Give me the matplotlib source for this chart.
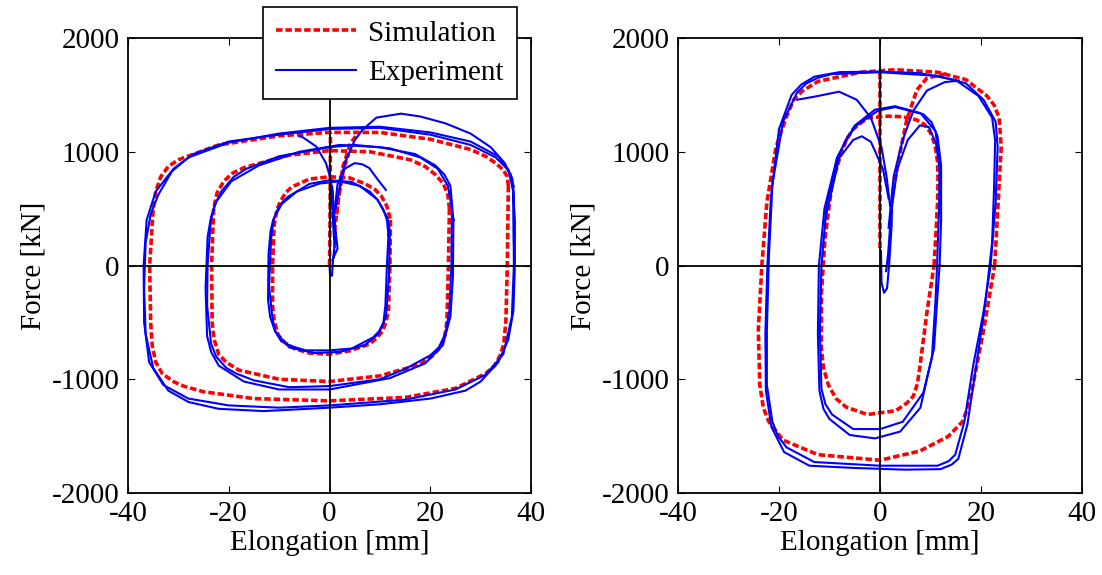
import numpy as np
import matplotlib
matplotlib.use('Agg')
import matplotlib.pyplot as plt

plt.rcParams['font.family'] = ['Liberation Serif', 'DejaVu Serif']
plt.rcParams['axes.unicode_minus'] = False

# ------ data (elongation [mm], force [kN]) ------
# left specimen, simulation
sim_l_small = [(12.1, 400), (12.0, 0), (11.7, -400), (11.2, -500), (10.5, -580), (9.3, -640), (8, -690),
               (4, -750), (0, -780), (-4, -770), (-7, -730), (-8.8, -680), (-10.2, -610), (-11, -480),
               (-11.3, -350), (-11.3, 0), (-11, 350), (-10.5, 480), (-9.8, 560), (-8.7, 640), (-7.5, 690),
               (-4, 760), (0, 780), (4, 770), (7, 720), (9, 670), (10.3, 610), (11.4, 520), (12.1, 400)]
sim_l_mid = [(23.8, 500), (23.6, 0), (23.3, -500), (22.8, -640), (22, -720), (20.3, -800), (18, -870),
             (10, -970), (0, -1020), (-10, -1000), (-18, -920), (-20.5, -850), (-22, -780), (-22.9, -650),
             (-23.3, -500), (-23.4, 0), (-23, 500), (-22.3, 640), (-21, 740), (-19.3, 810), (-17, 860),
             (-8, 970), (0, 1010), (8, 1000), (16, 930), (19, 870), (21, 800), (22.6, 720), (23.5, 620),
             (23.8, 500)]
sim_l_big = [(35.5, 700), (35.3, 0), (35.0, -500), (34.6, -680), (34.0, -780), (32.8, -880), (31, -950),
             (25, -1080), (15, -1160), (0, -1190), (-15, -1170), (-25, -1110), (-29, -1060), (-31, -1020),
             (-33.2, -950), (-34.5, -850), (-35.2, -700), (-35.5, -500), (-35.7, 0), (-35, 500),
             (-34.5, 650), (-33.5, 780), (-32, 870), (-30, 930), (-22, 1060), (-10, 1140), (0, 1170),
             (10, 1170), (20, 1110), (28, 1020), (31, 960), (33, 900), (34.5, 840), (35.3, 780),
             (35.5, 700)]
sim_l_init = [(0, 0), (0.1, 400), (0.2, 1170)]
sim_l_trans1 = [(1.0, 300), (1.8, 600), (2.8, 850), (3.8, 980)]
sim_l_trans2 = [(1.4, 450), (2.6, 860), (4.2, 1080), (6.0, 1175)]

# left specimen, experiment
exp_l_small_1 = [(11.7, 267), (11.4, 0), (11.1, -350), (10.7, -505), (9.8, -580), (8.6, -634), (4.4, -730),
                 (0, -746), (-4.7, -746), (-7.5, -710), (-9.6, -666), (-10.7, -580), (-11.3, -473),
                 (-12, -183), (-11.6, 235), (-11.1, 400), (-10.3, 492), (-9.3, 560), (-8.2, 605), (-4, 717),
                 (0, 750), (4.4, 734), (7.9, 653), (9.5, 580), (10.7, 492), (11.4, 400), (11.7, 267)]
exp_l_small_2 = [(12.0, 300), (11.8, -100), (11.2, -450), (9.8, -600), (7, -700), (2, -760), (-3, -770),
                 (-8, -720), (-10.8, -580), (-11.8, -450), (-12.2, -300), (-12.1, 100), (-11.7, 300),
                 (-11.2, 400), (-9.5, 540), (-6.5, 650), (-2, 720), (2, 740), (6, 700), (9.5, 580),
                 (11.5, 420), (12.0, 300)]
exp_l_mid_1 = [(24.3, 500), (24.2, 0), (23.8, -400), (23, -600), (21.7, -720), (20, -790), (15, -910),
               (10, -1000), (0, -1060), (-8, -1070), (-15, -1010), (-18.5, -950), (-20.5, -900),
               (-22.5, -800), (-23.5, -690), (-24.3, -350), (-24.2, 0), (-23.6, 380), (-22.8, 530),
               (-21.5, 650), (-19, 780), (-16.5, 850), (-10, 960), (0, 1040), (5, 1060), (12, 1030),
               (18, 950), (21.5, 850), (23.5, 700), (24.3, 500)]
exp_l_mid_2 = [(24.6, 400), (24.5, -100), (24, -450), (22.5, -700), (19, -860), (12, -990), (0, -1090),
               (-10, -1090), (-17, -1020), (-22, -880), (-23.5, -760), (-24.3, -620), (-24.6, -200),
               (-24.2, 250), (-23.5, 430), (-22.5, 560), (-19.5, 740), (-14, 880), (-6, 1000), (2, 1060),
               (10, 1040), (17, 980), (21, 880), (22.8, 800), (24, 700), (24.6, 400)]
exp_l_big_1 = [(1.2, 500), (3, 900), (5, 1100), (6.5, 1190), (9.3, 1300), (14.2, 1335), (18, 1310),
               (23, 1250), (28, 1160), (32, 1040), (34.8, 900), (36.3, 760), (36.8, 400), (36.8, 0),
               (36.5, -400), (35.5, -650), (33.5, -850), (30, -1020), (27, -1100), (20, -1170),
               (10, -1220), (0, -1250), (-13, -1280), (-22, -1260), (-28, -1200), (-32, -1100),
               (-35, -900), (-36.5, -600), (-36.8, -200), (-36.5, 200), (-35.5, 450), (-34, 620),
               (-31, 850), (-27, 980), (-20, 1090), (-10, 1150), (0, 1200), (10, 1210), (20, 1150),
               (28, 1060), (33, 950), (35.5, 840), (36.5, 650), (36.6, 200)]
exp_l_big_2 = [(36.5, 700), (36.6, 0), (36.2, -450), (34.5, -780), (31, -960), (25, -1090), (15, -1180),
               (0, -1230), (-10, -1250), (-20, -1230), (-28, -1170), (-33, -1050), (-35.8, -850),
               (-36.8, -500), (-36.9, 0), (-36.3, 400), (-34.5, 650), (-31.5, 820), (-28, 950),
               (-20, 1080), (-10, 1160), (0, 1210), (10, 1220), (20, 1170), (28, 1090), (33.5, 960),
               (36, 800), (36.5, 700)]
exp_l_bump = [(0.8, 400), (1.6, 717), (3, 850), (5, 900), (6.5, 890), (7.9, 857), (9.5, 760), (11.2, 664)]
exp_l_drop = [(-6, 1136), (-5.4, 1130), (-2.6, 1045), (-0.7, 900), (0.3, 750), (0.6, 460), (1.0, 163)]
exp_l_init = [(0, 0), (0.1, -80), (0.5, -90), (0.7, 50), (1.2, 250), (0.9, 420), (0.5, 700),
              (1.0, 380), (1.6, 150), (0.6, 50)]

# right specimen, simulation
sim_r_small = [(10.7, 0), (11.1, 300), (11.4, 557), (11.5, 750), (11.4, 911), (10.9, 1060), (10, 1168),
               (8.8, 1240), (7.2, 1281), (4.5, 1308), (1.7, 1313), (-2.5, 1297), (-5.3, 1200),
               (-6.7, 1104), (-8.3, 900), (-9.5, 717), (-10.9, 235), (-11.6, -248), (-11.6, -730),
               (-11.2, -900), (-10.2, -1052), (-8.7, -1170), (-6.7, -1245), (-2.5, -1310), (3.1, -1277),
               (5.3, -1210), (6.6, -1149), (7.4, -1040), (7.9, -891), (9.3, -409), (10.7, 0)]
sim_r_big = [(22.7, 0), (23.6, 717), (24, 1039), (23.6, 1297), (22.6, 1410), (21.2, 1490), (17, 1634),
             (11.4, 1699), (3, 1721), (-3.9, 1699), (-12.3, 1618), (-15.5, 1530), (-17.1, 1457),
             (-18.6, 1300), (-20.6, 1039), (-22.4, 557), (-23.4, 0), (-24.1, -570), (-23.8, -1052),
             (-23.1, -1250), (-22, -1374), (-19.2, -1535), (-12.3, -1663), (0, -1712), (7.9, -1631),
             (13.5, -1503), (16.3, -1374), (17.6, -1230), (18.4, -1052), (20.5, -570), (22.7, 0)]
sim_r_init = [(0, 150), (0, 800), (0, 1720)]
sim_r_trans = [(2.6, 664), (4, 1000), (5.3, 1279), (7.3, 1543), (9.3, 1648), (13.5, 1690)]

# right specimen, experiment
exp_r_small_1 = [(11.8, 0), (12.1, 396), (12.1, 878), (11.4, 1136), (10.2, 1260), (8.6, 1329), (3, 1393),
                 (-0.4, 1361), (-4.6, 1232), (-6.6, 1120), (-8.1, 975), (-10.5, 557), (-11.6, 0),
                 (-11.9, -570), (-11.6, -1084), (-10.8, -1220), (-9.5, -1310), (-5.3, -1438), (0, -1438),
                 (4.5, -1374), (8.6, -1117), (10.7, -730), (11.4, -248), (11.8, 0)]
exp_r_small_2 = [(11.3, 0), (11.7, 500), (11.8, 900), (11, 1180), (8, 1340), (3, 1400), (-1, 1370),
                 (-5, 1230), (-8.5, 950), (-11, 500), (-12.1, 0), (-12.3, -600), (-12, -1100),
                 (-11.2, -1260), (-10, -1350), (-6, -1490), (-1, -1520), (4, -1460), (8, -1250),
                 (10.3, -800), (11, -300), (11.3, 0)]
exp_r_big_1 = [(21.9, 0), (22.9, 557), (23.3, 1039), (22.9, 1264), (20.5, 1457), (17, 1602), (11.4, 1667),
               (0, 1699), (-9.5, 1683), (-12.3, 1650), (-14.6, 1600), (-16.4, 1522), (-19.2, 1264),
               (-21.3, 717), (-22, 74), (-22.4, -570), (-22.4, -1052), (-21.3, -1374), (-20.2, -1500),
               (-18.5, -1599), (-13, -1728), (0, -1760), (11.4, -1760), (13.6, -1720), (14.9, -1663),
               (16.7, -1374), (18.4, -891), (20.5, -409), (21.9, 0)]
exp_r_big_2 = [(22.2, 200), (22.6, 700), (22.8, 1100), (22.2, 1300), (19.5, 1490), (15, 1630), (8, 1690),
               (0, 1705), (-8, 1700), (-13, 1660), (-15.6, 1590), (-17.5, 1500), (-20, 1200), (-21.6, 600),
               (-22.3, 0), (-22.7, -600), (-22.6, -1100), (-21.5, -1420), (-19, -1640), (-14, -1760),
               (-5, -1780), (5, -1795), (12, -1790), (14.2, -1750), (15.5, -1700), (17.3, -1400),
               (19, -900), (20.8, -350), (22.2, 200)]
exp_r_arch_1 = [(-16.4, 1457), (-12.3, 1490), (-8.1, 1528), (-4.6, 1457), (-1.8, 1297), (0.3, 1039),
                (1.3, 782), (2, 524)]
exp_r_arch_2 = [(1.7, 331), (2.7, 782), (4.5, 1104), (6.6, 1361), (9.3, 1538), (12.8, 1612), (15.6, 1625)]
exp_r_arch_3 = [(-10.9, 396), (-8.1, 943), (-5.3, 1104), (-3.6, 1136), (-1.8, 1087), (0.6, 846), (1.7, 589)]
exp_r_arch_4 = [(2, 396), (3.4, 846), (5.5, 1104), (7.9, 1232), (9.7, 1216), (11.1, 1071), (11.8, 846)]
exp_r_init = [(0.2, 130), (0.3, -150), (0.8, -240), (1.4, -200), (1.8, 0), (2.3, 350), (2.4, 600),
              (2.1, 400), (1.6, 100), (1.2, -50)]

sim_left = [sim_l_small, sim_l_mid, sim_l_big, sim_l_init, sim_l_trans1, sim_l_trans2]
exp_left = [exp_l_small_1, exp_l_small_2, exp_l_mid_1, exp_l_mid_2, exp_l_big_1, exp_l_big_2,
            exp_l_bump, exp_l_drop, exp_l_init]
sim_right = [sim_r_small, sim_r_big, sim_r_init, sim_r_trans]
exp_right = [exp_r_small_1, exp_r_small_2, exp_r_big_1, exp_r_big_2, exp_r_arch_1, exp_r_arch_2,
             exp_r_arch_3, exp_r_arch_4, exp_r_init]

x_ticks = [-40, -20, 0, 20, 40]
y_ticks = [-2000, -1000, 0, 1000, 2000]

SIM_STYLE = dict(color='#ff0000', lw=2.6, ls=(0, (1.8, 0.8)))
EXP_STYLE = dict(color='#0000ff', lw=1.5)


def draw_panel(ax, sim_curves, exp_curves):
    for c in sim_curves:
        c = np.array(c)
        ax.plot(c[:, 0], c[:, 1], zorder=2, **SIM_STYLE)
    for c in exp_curves:
        c = np.array(c)
        ax.plot(c[:, 0], c[:, 1], zorder=3, **EXP_STYLE)
    ax.axhline(0, color='black', lw=1.3, zorder=4)
    ax.axvline(0, color='black', lw=1.3, zorder=4)
    ax.set_xlim(-40, 40)
    ax.set_ylim(-2000, 2000)
    ax.set_xticks(x_ticks)
    ax.set_yticks(y_ticks)
    ax.tick_params(direction='in', top=True, right=True, length=5, labelsize=21, pad=6)
    ax.set_xlabel('Elongation [mm]', fontsize=21, labelpad=2)
    ax.set_ylabel('Force [kN]', fontsize=21, labelpad=4)
    for s in ax.spines.values():
        s.set_linewidth(1.3)


fig = plt.figure(figsize=(11.02, 5.75), dpi=100)
ax1 = fig.add_axes([128 / 1102, 1 - 493 / 575, 403 / 1102, 455 / 575])
ax2 = fig.add_axes([678 / 1102, 1 - 493 / 575, 404 / 1102, 455 / 575])

draw_panel(ax1, sim_left, exp_left)
draw_panel(ax2, sim_right, exp_right)

# legend handles
h_sim, = ax1.plot([], [], **SIM_STYLE)
h_exp, = ax1.plot([], [], **EXP_STYLE)
leg = fig.legend([h_sim, h_exp], ['Simulation', 'Experiment'], loc='upper left',
                 bbox_to_anchor=(263 / 1102, 1 - 7 / 575), fontsize=21, frameon=True,
                 fancybox=False, edgecolor='black', framealpha=1, borderpad=0.45,
                 handlelength=2.75, labelspacing=0.45, handletextpad=0.4, borderaxespad=0)
leg.get_frame().set_linewidth(1.2)
leg.set_zorder(10)

fig.savefig('out.png', dpi=100)
